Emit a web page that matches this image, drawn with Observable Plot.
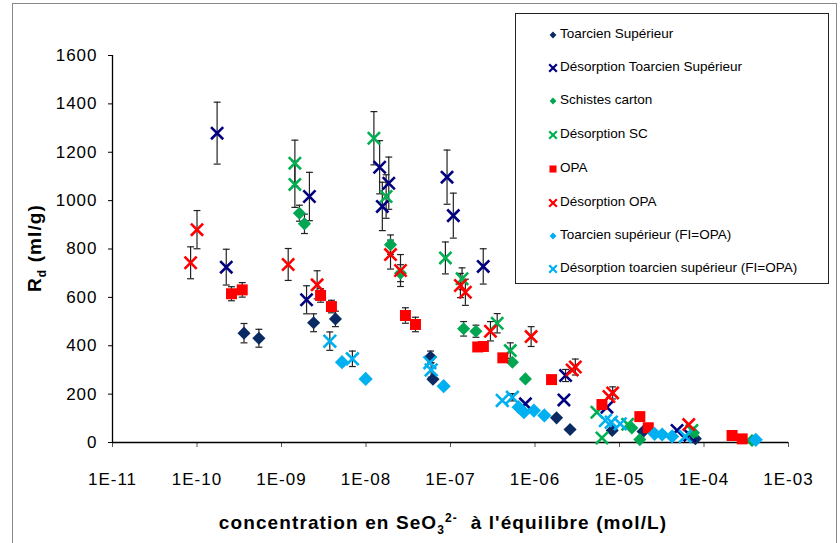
<!DOCTYPE html>
<html><head><meta charset="utf-8">
<script src="https://cdn.jsdelivr.net/npm/d3@7"></script>
<script src="https://cdn.jsdelivr.net/npm/@observablehq/plot@0.6"></script>
<style>
body{margin:0;background:#fff;}
#wrap{position:relative;width:840px;height:543px;overflow:hidden;font-family:"Liberation Sans",Arial,sans-serif;}
#frame{position:absolute;left:12px;top:3px;width:823px;height:600px;border:1px solid #8a8a8a;pointer-events:none;}
#legend{position:absolute;left:515px;top:13px;width:312px;height:269px;border:1px solid #222;background:#fff;}
.row{position:absolute;left:0;height:20px;line-height:20px;font-size:13.5px;color:#000;white-space:nowrap;}
.row svg{position:absolute;left:31px;top:5px;}
.row span{position:absolute;left:44px;top:0;}
.tick text{letter-spacing:1px;}
</style></head>
<body><div id="wrap"><div id="frame"></div></div>
<script>
// [concentration (mol/L), Rd (ml/g), error]
const toarcienSup = [[3.6e-10,452,40],[5.4e-10,431,37],[2.4e-9,495,37],[4.35e-9,511,32],[5.8e-8,353,25],[6.2e-8,262,0],[1.8e-6,102,0],[2.6e-6,54,0],[8.2e-6,50,0],[1.9e-5,45,0],[7.9e-5,16,0]];
const desorpToarcienSup = [[1.73e-10,1279,128],[2.22e-10,725,74],[2.14e-9,1017,100],[1.98e-9,590,58],[1.45e-8,1138,110],[1.86e-8,1072,108],[1.56e-8,976,100],[9.1e-8,1097,112],[1.08e-7,938,93],[2.44e-7,728,73],[7.7e-7,160,0],[2.2e-6,176,0],[2.3e-6,277,25],[7.1e-6,146,0],[4.8e-5,50,0],[6.8e-5,30,0]];
const schistesCarton = [[1.63e-9,948,33],[1.87e-9,904,40],[1.95e-8,818,40],[2.56e-8,700,35],[1.43e-7,470,30],[2.0e-7,460,25],[5.4e-7,332,0],[7.7e-7,263,0],[1.4e-5,60,0],[1.74e-5,12,0],[7.5e-5,40,0],[3.7e-4,8,0]];
const desorpSC = [[1.44e-9,1155,95],[1.44e-9,1067,95],[1.24e-8,1258,110],[1.73e-8,1017,90],[8.7e-8,763,66],[1.37e-7,677,45],[3.57e-7,493,40],[5.1e-7,380,32],[5.4e-6,125,0],[6.2e-6,19,0],[1.25e-5,75,0],[7.2e-5,50,0]];
const opa = [[2.56e-10,615,29],[3.43e-10,631,30],[2.9e-9,608,28],[3.9e-9,562,26],[2.93e-8,525,32],[3.85e-8,488,30],[2.1e-7,395,12],[2.45e-7,397,12],[4.16e-7,350,0],[1.57e-6,260,0],[6.2e-6,157,0],[1.74e-5,107,0],[2.19e-5,61,0],[2.15e-4,29,0],[2.83e-4,15,0]];
const desorpOPA = [[8.4e-11,743,66],[1.0e-10,880,79],[1.2e-9,736,66],[2.64e-9,652,58],[1.95e-8,777,60],[2.56e-8,711,66],[1.31e-7,649,50],[1.5e-7,621,54],[2.97e-7,460,40],[9.0e-7,438,41],[2.75e-6,300,0],[3.0e-6,312,33],[7.5e-6,190,0],[8.3e-6,205,25],[6.6e-5,74,0]];
const toarcienFI = [[5.2e-9,332,0],[9.9e-9,263,0],[8.3e-8,233,0],[6.4e-7,146,0],[7.4e-7,125,0],[9.7e-7,132,0],[1.29e-6,112,0],[2.6e-5,36,0],[3.2e-5,33,0],[4.2e-5,25,0],[4.1e-4,11,0]];
const desorpToarcienFI = [[3.73e-9,419,38],[6.9e-9,346,32],[5.7e-8,330,0],[5.9e-8,300,30],[4.1e-7,174,0],[5.4e-7,187,15],[6.8e-6,91,0],[8.0e-6,84,0],[1.02e-5,77,0],[6.0e-5,25,0]];

const seriesNames = ["Toarcien Supérieur","Désorption Toarcien Supérieur","Schistes carton","Désorption SC","OPA","Désorption OPA","Toarcien supérieur (FI=OPA)","Désorption toarcien supérieur (FI=OPA)"];
const xTicks = [1e-11,1e-10,1e-9,1e-8,1e-7,1e-6,1e-5,1e-4,1e-3];
const yTicks = [0,200,400,600,800,1000,1200,1400,1600];

const series = [
  {name:seriesNames[0], data:toarcienSup, color:"#0B2A63", sym:"diamond2", filled:true, r:5.9},
  {name:seriesNames[1], data:desorpToarcienSup, color:"#000080", sym:"times", filled:false, r:5.6},
  {name:seriesNames[2], data:schistesCarton, color:"#00A651", sym:"diamond2", filled:true, r:5.9},
  {name:seriesNames[3], data:desorpSC, color:"#00B050", sym:"times", filled:false, r:5.6},
  {name:seriesNames[4], data:opa, color:"#FF0000", sym:"square", filled:true, r:6.2},
  {name:seriesNames[5], data:desorpOPA, color:"#FF0000", sym:"times", filled:false, r:5.6},
  {name:seriesNames[6], data:toarcienFI, color:"#00B0F0", sym:"diamond2", filled:true, r:6.4},
  {name:seriesNames[7], data:desorpToarcienFI, color:"#00B0F0", sym:"times", filled:false, r:5.8}
];

const cap = {draw(ctx, size){const w = Math.sqrt(size)/2; ctx.moveTo(-w,0); ctx.lineTo(w,0);}};

const marks = [];
for (const s of series) {
  const rows = s.data.map(([x,y,e]) => ({x, y, lo: y - e, hi: y + e, e}));
  const eb = rows.filter(d => d.e > 0);
  marks.push(Plot.ruleX(eb, {x:"x", y1:"lo", y2:"hi", stroke:"#222", strokeWidth:1.2}));
  marks.push(Plot.dot(eb, {x:"x", y:"lo", symbol:cap, r:3.9, stroke:"#222", strokeWidth:1.2, fill:"none"}));
  marks.push(Plot.dot(eb, {x:"x", y:"hi", symbol:cap, r:3.9, stroke:"#222", strokeWidth:1.2, fill:"none"}));
}
for (const s of series) {
  const rows = s.data.map(([x,y]) => ({x, y}));
  if (s.filled) marks.push(Plot.dot(rows, {x:"x", y:"y", symbol:s.sym, r:s.r, fill:s.color, stroke:"none"}));
  else marks.push(Plot.dot(rows, {x:"x", y:"y", symbol:s.sym, r:s.r, stroke:s.color, strokeWidth:2.6, fill:"none"}));
}

const fmt = d => { const k = Math.round(Math.log10(d)); return "1E" + (k < 0 ? "-" : "+") + String(Math.abs(k)).padStart(2,"0"); };

const chart = Plot.plot({
  width: 840, height: 543,
  marginLeft: 112, marginRight: 52, marginTop: 55, marginBottom: 101,
  style: {fontFamily: "Liberation Sans, Arial, sans-serif", fontSize: "17px", background: "transparent", color: "#000"},
  x: {type: "log", domain: [1e-11, 1e-3]},
  y: {domain: [0, 1600]},
  marks: [
    Plot.axisX({ticks: xTicks, tickFormat: fmt, tickSize: 5, tickPadding: 25, label: null, stroke: "#555", className: "tick"}),
    Plot.axisY({ticks: yTicks, tickFormat: d => String(d), tickSize: 4, tickPadding: 11, label: null, className: "tick"}),
    Plot.ruleY([0], {stroke: "#000", strokeWidth: 1.3}),
    Plot.ruleX([1e-11], {y1: 0, y2: 1600, stroke: "#000", strokeWidth: 1.3}),
    ...marks
  ]
});

const svg = d3.select(chart);
const xt = svg.append("text").attr("x", 443).attr("y", 529).attr("text-anchor", "middle")
  .attr("font-weight", "bold").attr("font-size", 19).attr("letter-spacing", "1.1px").attr("fill", "#000");
xt.append("tspan").text("concentration en SeO");
xt.append("tspan").attr("font-size", 12).attr("dy", 5).text("3");
xt.append("tspan").attr("font-size", 12).attr("dy", -12).text("2-");
xt.append("tspan").attr("dy", 7).text("\u00a0\u00a0à l'équilibre (mol/L)");

const yt = svg.append("text").attr("transform", "translate(41,248) rotate(-90)").attr("text-anchor", "middle")
  .attr("font-weight", "bold").attr("font-size", 19).attr("letter-spacing", "1.1px").attr("fill", "#000");
yt.append("tspan").text("R");
yt.append("tspan").attr("font-size", 12).attr("dy", 5).text("d");
yt.append("tspan").attr("dy", -5).text("\u00a0(ml/g)");

const wrap = document.getElementById("wrap");
wrap.insertBefore(chart, wrap.firstChild);

// legend inside the plot
const legend = document.createElement("div");
legend.id = "legend";
const itemY = [33.3, 66, 99.3, 133.3, 166.7, 200.7, 234, 267.3];
const legSize = {diamond2: 30, square: 50, times: 40};
series.forEach((s, i) => {
  const row = document.createElement("div");
  row.className = "row";
  row.style.top = (itemY[i] - 13 - 10) + "px";
  const sv = d3.create("svg").attr("width", 12).attr("height", 12);
  const symType = s.sym === "diamond2" ? d3.symbolDiamond2 : s.sym === "square" ? d3.symbolSquare : d3.symbolTimes;
  const p = sv.append("path").attr("transform", "translate(6,6)").attr("d", d3.symbol(symType, legSize[s.sym])());
  if (s.filled) p.attr("fill", s.color); else p.attr("fill", "none").attr("stroke", s.color).attr("stroke-width", 2.2);
  row.appendChild(sv.node());
  const t = document.createElement("span");
  t.textContent = s.name;
  row.appendChild(t);
  legend.appendChild(row);
});
wrap.appendChild(legend);
</script>
</body></html>
